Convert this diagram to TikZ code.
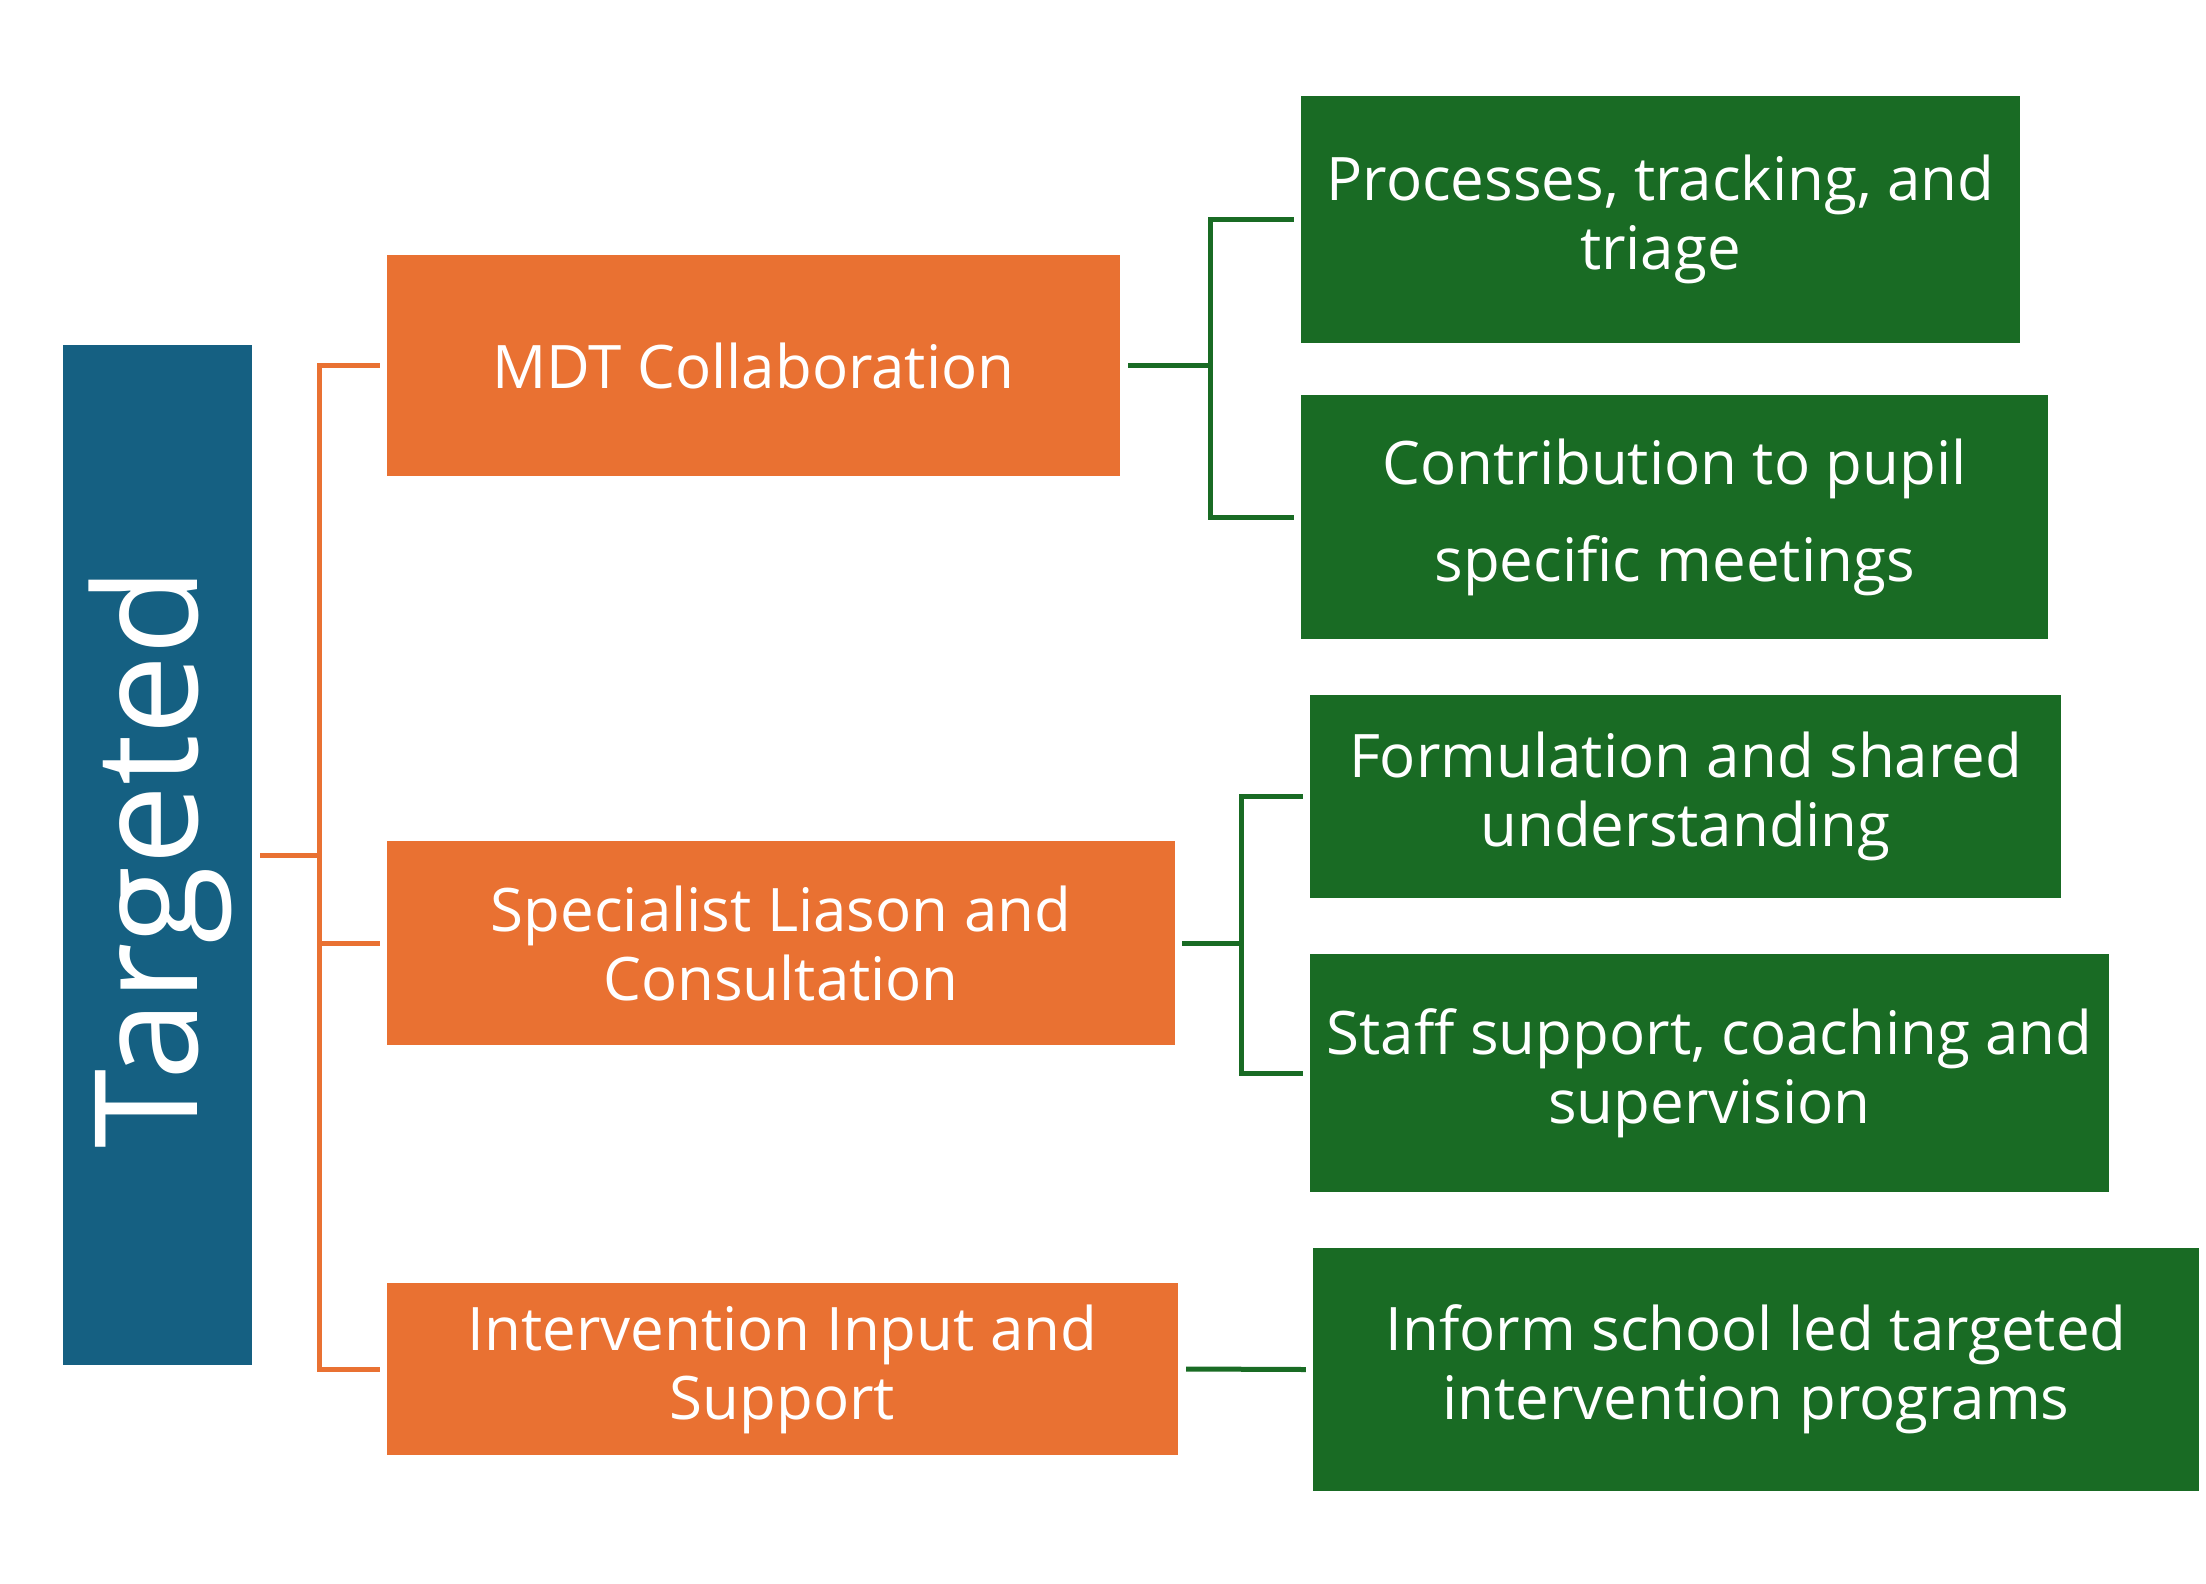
\documentclass[tikz,border=0pt]{standalone}
\usepackage{fontspec}
\setmainfont{Open Sans}[Ligatures=NoCommon]
\definecolor{tblue}{HTML}{156082}
\definecolor{torange}{HTML}{E97132}
\definecolor{tgreen}{HTML}{196B24}
\tikzset{
  box/.style={rectangle, inner sep=0pt, text=white, align=center, font=\fontsize{60}{69}\selectfont},
  obox/.style={box, fill=torange},
  gbox/.style={box, fill=tgreen},
  oline/.style={draw=torange, line width=5pt},
  gline/.style={draw=tgreen, line width=5pt},
}
\begin{document}
\begin{tikzpicture}[x=1pt,y=-1pt]
\useasboundingbox (0,0) rectangle (2206,1583);
\node[box, fill=tblue, minimum width=189pt, minimum height=1020pt] (blue) at (157.5,855) {};
\node[text=white, rotate=90, font=\fontsize{143}{150}\selectfont, inner sep=0pt] (title) at (160,858) {Targeted};

\node[obox, minimum width=733pt, minimum height=221pt] (o1) at (753.5,365.5) {MDT Collaboration};
\node[obox, minimum width=788pt, minimum height=204pt] (o2) at (781,943) {Specialist Liason and\\Consultation};
\node[obox, minimum width=791pt, minimum height=172pt] (o3) at (782.5,1369) {Intervention Input and\\Support};

\node[gbox, minimum width=719pt, minimum height=247pt] (g1) at (1660.5,219.5) {Processes, tracking, and\\triage};
\node[gbox, minimum width=747pt, minimum height=244pt, font=\fontsize{60}{97}\selectfont] (g2) at (1674.5,517) {Contribution to pupil\\specific meetings};
\node[gbox, minimum width=751pt, minimum height=203pt] (g3) at (1685.5,796.5) {Formulation and shared\\understanding};
\node[gbox, minimum width=799pt, minimum height=238pt] (g4) at (1709.5,1073) {Staff support, coaching and\\supervision};
\node[gbox, minimum width=886pt, minimum height=243pt] (g5) at (1756,1369.5) {Inform school led targeted\\intervention programs};

% orange connectors
\coordinate (ob) at (319,855);
\draw[oline] ([xshift=8pt]blue.east) -- (ob);
\draw[oline] ([xshift=-7pt]o1.west) -| (ob |- o3.west) -- ([xshift=-7pt]o3.west);
\draw[oline] ([xshift=-7pt]o2.west) -- (ob |- o2.west);

% green connectors
\coordinate (gb1) at (1210,365.5);
\draw[gline] ([xshift=8pt]o1.east) -- (gb1);
\draw[gline] ([xshift=-7pt]g1.west) -| (gb1 |- g2.west) -- ([xshift=-7pt]g2.west);

\coordinate (gb2) at (1241,943);
\draw[gline] ([xshift=7pt]o2.east) -- (gb2);
\draw[gline] ([xshift=-7pt]g3.west) -| (gb2 |- g4.west) -- ([xshift=-7pt]g4.west);

\draw[gline] ([xshift=8pt]o3.east) -- ([xshift=-7pt]g5.west);
\end{tikzpicture}
\end{document}
